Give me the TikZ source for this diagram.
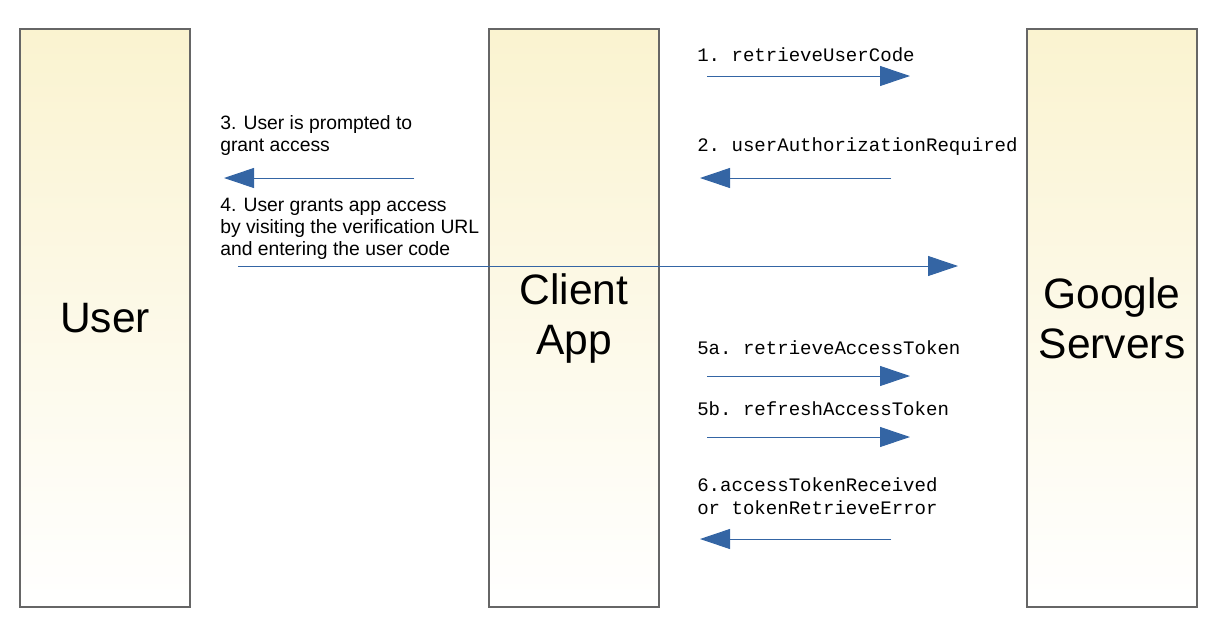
\documentclass[tikz,border=0pt]{standalone}
\usepackage{fontspec}
\setmainfont{Liberation Sans}
\setmonofont{Liberation Mono}
\usetikzlibrary{arrows.meta}
\definecolor{msgblue}{RGB}{52,101,164}
\definecolor{lanefill}{RGB}{250,243,208}
\definecolor{laneline}{RGB}{102,102,102}

\begin{document}
\begin{tikzpicture}[x=0.75pt,y=0.75pt,yscale=-1,xscale=1,
  lane/.style={draw=laneline,line width=1pt,top color=lanefill,bottom color=white,minimum width=127.5pt,minimum height=433.5pt,inner sep=0pt,align=center,font=\fontsize{31.9}{37.5}\selectfont},
  msg/.style={draw=msgblue,line width=0.75pt,-{Triangle[length=22.5pt,width=15pt]},fill=msgblue},
  calltxt/.style={anchor=base west,inner sep=0pt,align=left,font=\ttfamily\fontsize{14.3}{17.25}\selectfont},
  usertxt/.style={anchor=base west,inner sep=0pt,align=left,font=\fontsize{14.5}{16.5}\selectfont}]
\useasboundingbox (0,0) rectangle (1219,625);

%Shape: Lanes
\node[lane] (user) at (105,318) {User};
\node[lane] (app) at (574,318) {Client\\App};
\node[lane] (google) at (1112,318) {Google\\Servers};

% Text Node (base = last line)
\node[calltxt] (lbl1) at (697,61) {1. retrieveUserCode};
% Text Node
\node[calltxt] (lbl2) at (697,151) {2. userAuthorizationRequired};
% Text Node
\node[usertxt] (lbl3) at (220,151) {3. User is prompted to\\grant access};
% Text Node
\node[usertxt] (lbl4) at (220,255) {4. User grants app access\\by visiting the verification URL\\and entering the user code};
% Text Node
\node[calltxt] (lbl5a) at (697,354) {5a. retrieveAccessToken};
% Text Node
\node[calltxt] (lbl5b) at (697,415) {5b. refreshAccessToken};
% Text Node
\node[calltxt] (lbl6) at (697,514) {6.accessTokenReceived\\or tokenRetrieveError};

%Straight Lines: message ends
\coordinate (m1s) at (707,76);   \coordinate (m1e) at (910,76);
\coordinate (m2s) at (891,178);  \coordinate (m2e) at (700,178);
\coordinate (m3s) at (414,178);  \coordinate (m3e) at (224,178);
\coordinate (m4s) at (238,266);  \coordinate (m4e) at (958,266);
\coordinate (m5as) at (707,376); \coordinate (m5ae) at (910,376);
\coordinate (m5bs) at (707,437); \coordinate (m5be) at (910,437);
\coordinate (m6s) at (891,539);  \coordinate (m6e) at (700,539);

%Straight Lines: messages
\draw[msg] (m1s) -- (m1e);
\draw[msg] (m2s) -- (m2e);
\draw[msg] (m3s) -- (m3e);
\draw[msg] (m4s) -- (m4e);
\draw[msg] (m5as) -- (m5ae);
\draw[msg] (m5bs) -- (m5be);
\draw[msg] (m6s) -- (m6e);

\end{tikzpicture}
\end{document}
